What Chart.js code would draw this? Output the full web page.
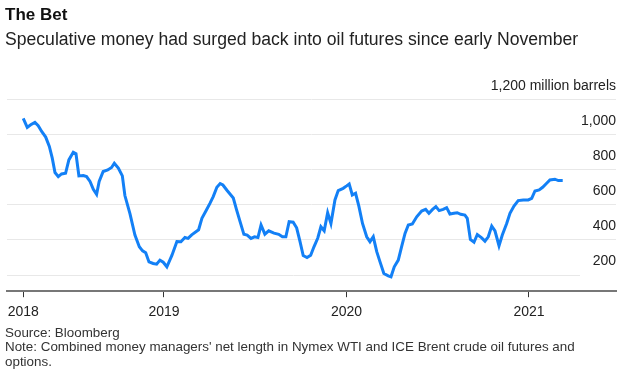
<!DOCTYPE html>
<html>
<head>
<meta charset="utf-8">
<script src="https://cdn.jsdelivr.net/npm/chart.js@4"></script>
<style>
  html, body { margin: 0; padding: 0; background: #fff; }
  body {
    width: 629px; height: 390px; position: relative; overflow: hidden;
    font-family: "Liberation Sans", Arial, sans-serif; color: #111;
  }
  canvas { position: absolute; left: 0; top: 0; }
  .txt { position: absolute; left: 5px; white-space: nowrap; }
  #title { top: 5px; font-size: 17px; font-weight: bold; }
  #subtitle { top: 29px; font-size: 17.6px; color: #222; }
  #source { top: 325px; font-size: 13.4px; line-height: 15px; color: #333; }
  #note { top: 340px; font-size: 13.4px; line-height: 14.5px; color: #333; }
</style>
</head>
<body>
<canvas id="chart" width="629" height="390"></canvas>
<div class="txt" id="title">The Bet</div>
<div class="txt" id="subtitle">Speculative money had surged back into oil futures since early November</div>
<div class="txt" id="source">Source: Bloomberg</div>
<div class="txt" id="note">Note: Combined money managers' net length in Nymex WTI and ICE Brent crude oil futures and<br>options.</div>
<script>
// weekly positioning (decimal years)
const dates = [
  2018.229, 2018.251, 2018.270, 2018.293, 2018.311, 2018.330, 2018.352, 2018.372,
  2018.388, 2018.403, 2018.421, 2018.439, 2018.461, 2018.479, 2018.503, 2018.518,
  2018.534, 2018.558, 2018.576, 2018.595, 2018.613, 2018.631, 2018.645, 2018.667,
  2018.692, 2018.713, 2018.728, 2018.750, 2018.772, 2018.786, 2018.814, 2018.841,
  2018.865, 2018.883, 2018.900, 2018.918, 2018.941, 2018.960, 2018.978, 2018.996,
  2019.016, 2019.044, 2019.071, 2019.093, 2019.115, 2019.132, 2019.152, 2019.190,
  2019.208, 2019.232, 2019.252, 2019.270, 2019.290, 2019.308, 2019.323, 2019.345,
  2019.380, 2019.398, 2019.420, 2019.438, 2019.456, 2019.477, 2019.496, 2019.515,
  2019.532, 2019.553, 2019.574, 2019.603, 2019.629, 2019.649, 2019.668, 2019.686,
  2019.708, 2019.727, 2019.745, 2019.763, 2019.784, 2019.804, 2019.822, 2019.843,
  2019.860, 2019.878, 2019.897, 2019.915, 2019.937, 2019.955, 2019.982, 2020.001,
  2020.015, 2020.032, 2020.050, 2020.068, 2020.088, 2020.111, 2020.129, 2020.147,
  2020.166, 2020.184, 2020.205, 2020.229, 2020.244, 2020.262, 2020.284, 2020.302,
  2020.321, 2020.339, 2020.361, 2020.385, 2020.412, 2020.434, 2020.452, 2020.472,
  2020.490, 2020.508, 2020.530, 2020.549, 2020.567, 2020.589, 2020.607, 2020.626,
  2020.649, 2020.662, 2020.679, 2020.699, 2020.717, 2020.741, 2020.759, 2020.777,
  2020.796, 2020.814, 2020.836, 2020.854, 2020.878, 2020.896, 2020.918, 2020.941,
  2020.969, 2020.996, 2021.015, 2021.033, 2021.056, 2021.075, 2021.097, 2021.115,
  2021.142, 2021.161, 2021.185
];
// net length, million barrels
const values = [
  1090, 1038, 1053, 1067, 1048, 1015, 983, 930,
  863, 781, 758, 773, 777, 853, 897, 888,
  762, 764, 758, 730, 686, 657, 730, 787,
  796, 810, 834, 806, 762, 650, 545, 425,
  358, 335, 324, 272, 263, 259, 282, 270,
  244, 310, 388, 387, 411, 406, 426, 455,
  520, 566, 605, 644, 697, 718, 710, 680,
  636, 568, 491, 429, 425, 406, 415, 411,
  482, 430, 449, 436, 429, 415, 415, 501,
  498, 466, 390, 308, 297, 310, 358, 408,
  472, 449, 552, 491, 625, 678, 691, 705,
  716, 653, 663, 590, 491, 415, 387, 415,
  330, 272, 206, 192, 187, 244, 282, 358,
  434, 482, 488, 529, 562, 571, 549, 571,
  587, 564, 571, 581, 545, 549, 552, 543,
  539, 520, 400, 384, 428, 409, 390, 415,
  476, 448, 364, 425, 491, 549, 590, 621,
  625, 625, 634, 676, 682, 697, 720, 739,
  743, 735, 735
];

const xTickValues = [2018.229, 2019, 2020, 2021];
const xTickLabels = ["2018", "2019", "2020", "2021"];
const yTickValues = [200, 400, 600, 800, 1000, 1200];
const yTopLabel = "1,200 million barrels";

const fontFamily = '"Liberation Sans", Arial, sans-serif';
const gridColor = "#e8e8e8";

// the lowest gridline stops short of the labels column in the original
const shortGridline = {
  id: "shortGridline",
  beforeDatasetsDraw(chart) {
    const { ctx, chartArea, scales } = chart;
    const y = Math.round(scales.y.getPixelForValue(200)) + 0.5;
    ctx.save();
    ctx.strokeStyle = gridColor;
    ctx.lineWidth = 1;
    ctx.beginPath();
    ctx.moveTo(chartArea.left, y);
    ctx.lineTo(chartArea.right - 36, y);
    ctx.stroke();
    ctx.restore();
  },
};

const ctx = document.getElementById("chart").getContext("2d");
new Chart(ctx, {
  type: "line",
  data: {
    datasets: [
      {
        data: dates.map((d, i) => ({ x: d, y: values[i] })),
        borderColor: "#1380f6",
        borderWidth: 3,
        pointRadius: 0,
        tension: 0,
        fill: false,
      },
    ],
  },
  options: {
    responsive: false,
    animation: false,
    layout: { padding: { left: 7, right: 13, top: 99, bottom: 62 } },
    plugins: {
      legend: { display: false },
      tooltip: { enabled: false },
    },
    scales: {
      x: {
        type: "linear",
        min: 2018.14,
        max: 2021.477,
        afterBuildTicks: (axis) => {
          axis.ticks = xTickValues.map((v) => ({ value: v }));
        },
        ticks: {
          callback: (v, i) => xTickLabels[i],
          font: { family: fontFamily, size: 14 },
          color: "#222",
          padding: 7,
          maxRotation: 0,
          autoSkip: false,
        },
        grid: { drawOnChartArea: false, drawTicks: true, tickLength: 6, color: "#333" },
        border: { display: true, color: "#777", width: 2 },
      },
      y: {
        position: "right",
        min: 105,
        max: 1200,
        afterBuildTicks: (axis) => {
          axis.ticks = yTickValues.map((v) => ({ value: v }));
        },
        ticks: {
          mirror: true,
          padding: 0,
          labelOffset: -13,
          callback: (v) => (v === 1200 ? yTopLabel : v.toLocaleString("en-US")),
          font: { family: fontFamily, size: 14 },
          color: "#222",
        },
        grid: {
          color: (c) => (c.tick && c.tick.value === 200 ? "rgba(0,0,0,0)" : gridColor),
          drawTicks: false,
          lineWidth: 1,
        },
        border: { display: false },
      },
    },
  },
  plugins: [shortGridline],
});
</script>
</body>
</html>
